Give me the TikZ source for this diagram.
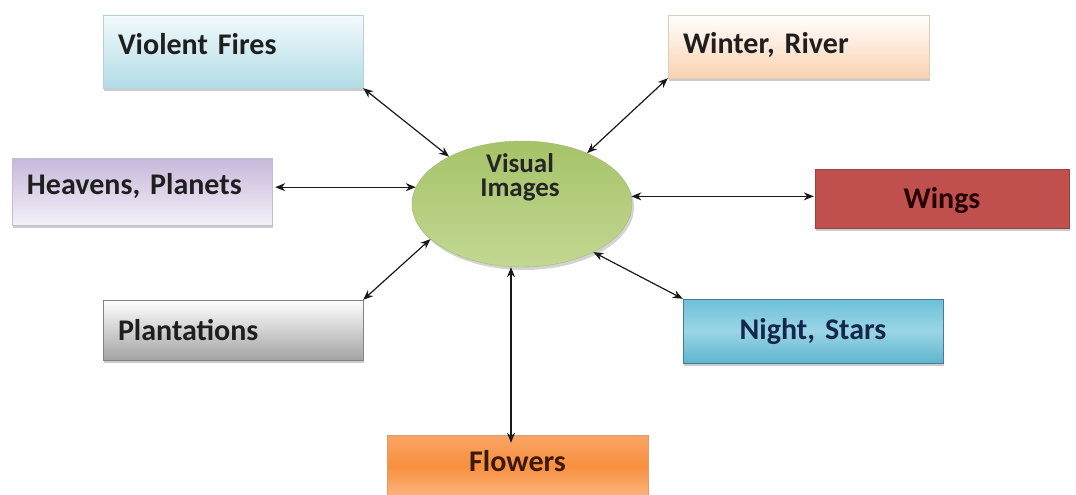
\documentclass[tikz,border=0pt]{standalone}
\usepackage{fontspec}
\setmainfont{Carlito}
\usetikzlibrary{arrows.meta,shadows,shapes.geometric}
\definecolor{vfT}{HTML}{F2FAFC}\definecolor{vfB}{HTML}{B2DCE6}
\definecolor{wrT}{HTML}{FFFFFF}\definecolor{wrB}{HTML}{FAD2B0}
\definecolor{wiC}{HTML}{C0504D}
\definecolor{hpT}{HTML}{C7B8DA}\definecolor{hpB}{HTML}{F4F0F8}
\definecolor{plT}{HTML}{FFFFFF}\definecolor{plB}{HTML}{A3A3A3}
\definecolor{nsT}{HTML}{6EC0D8}\definecolor{nsM}{HTML}{9AD5E6}\definecolor{nsB}{HTML}{5FB5CF}
\definecolor{flT}{HTML}{F9A567}\definecolor{flM}{HTML}{F8903F}\definecolor{flB}{HTML}{FBB480}
\definecolor{viT}{HTML}{A6C368}\definecolor{viB}{HTML}{C2D893}
\tikzset{
  box/.style={rectangle, inner ysep=0pt, inner xsep=15pt, align=left,
    font=\fontsize{30}{34}\selectfont\bfseries, text=black!88, text height=20pt,
    drop shadow={shadow xshift=1pt, shadow yshift=-3pt, opacity=0.4}},
  cbox/.style={box, align=center},
  arr/.style={{Stealth[length=10pt,width=8pt]}-{Stealth[length=10pt,width=8pt]}, line width=1.2pt, black!90},
}
\begin{document}
\begin{tikzpicture}[x=1pt,y=-1pt]
\useasboundingbox (0,0) rectangle (1076,495);
\node[box, draw=vfB!80!black!60, top color=vfT, bottom color=vfB, minimum height=73pt, text width=230pt, text depth=14pt] (vf) at (233,51.5) {Violent Fires};
\node[box, draw=wrB!80!black!60, top color=wrT, bottom color=wrB, minimum height=63pt, text width=231pt, text depth=5pt] (wr) at (798.5,46.5) {Winter, River};
\node[cbox, draw=wiC!80!black, fill=wiC, text=black!85!red, minimum height=59pt, text width=224pt, text depth=0pt] (wi) at (942,198.5) {Wings};
\node[box, draw=hpT!80!black!60, top color=hpT, bottom color=hpB, minimum height=67pt, text width=230pt, text depth=15pt] (hp) at (142,191.5) {Heavens, Planets};
\node[box, draw=plB!80!black, top color=plT, bottom color=plB, minimum height=60pt, text width=230pt, text depth=0pt] (pl) at (233,330) {Plantations};
\node[cbox, draw=nsB!70!black, top color=nsT, bottom color=nsB, middle color=nsM, text={rgb,255:red,20;green,40;blue,75}, minimum height=64pt, text width=230pt, text depth=4pt] (ns) at (813,331) {Night, Stars};
\node[cbox, draw=flM!80!black!70, top color=flT, bottom color=flB, middle color=flM, text={rgb,255:red,60;green,25;blue,10}, minimum height=62pt, text width=231pt, text depth=10pt] (fl) at (517.5,466) {Flowers};
\node[ellipse, draw=viT!85!black!80, top color=viT, bottom color=viB, minimum width=220pt, minimum height=126pt, inner sep=0pt,
  drop shadow={shadow xshift=2pt, shadow yshift=-3pt, opacity=0.35}] (vi) at (522,204) {};
\node[align=center, font=\fontsize{27}{24}\selectfont\bfseries, text=black!85, inner sep=0pt] (vit) at (520,177) {Visual\\Images};
\draw[arr] (vf.south east) -- (vi.147);
\draw[arr] (wr.south west) -- (vi.38);
\draw[arr] ([xshift=3pt]vi.171 -| hp.east) -- (vi.171);
\draw[arr] (vi.4) -- ([xshift=-1pt]vi.4 -| wi.west);
\draw[arr] (pl.north east) -- (vi.201);
\draw[arr] (ns.north west) -- (vi.326);
\draw[arr] ([xshift=-11pt]vi.south) -- ([xshift=-11pt,yshift=-8pt]vi.south |- fl.north);
\end{tikzpicture}
\end{document}
